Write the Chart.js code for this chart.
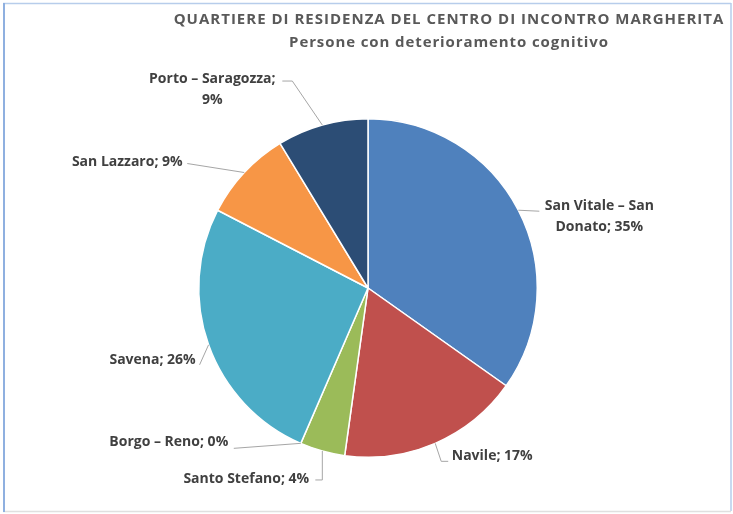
<!DOCTYPE html>
<html lang="it">
<head>
<meta charset="UTF-8">
<title>Quartiere di residenza</title>
<script src="https://cdn.jsdelivr.net/npm/chart.js"></script>
<style>
  body { margin: 0; background: #fff; }
  canvas { display: block; }
</style>
</head>
<body>
<canvas id="pie" width="733" height="514"></canvas>
<script>
  const categories = ['San Vitale – San Donato', 'Navile', 'Santo Stefano', 'Borgo – Reno', 'Savena', 'San Lazzaro', 'Porto – Saragozza'];
  const percentages = [34.8, 17.4, 4.3, 0, 26.1, 8.7, 8.7];
  const colors = ['#4F81BD', '#C0504D', '#9BBB59', '#8064A2', '#4BACC6', '#F79646', '#2C4D75'];

  const titleLines = ['QUARTIERE DI RESIDENZA DEL CENTRO DI INCONTRO MARGHERITA', 'Persone con deterioramento cognitivo'];

  // where each label sits, relative to the point on the rim at the slice middle
  const labelLayout = [
    { c: [81, 6], wrap: 125, line: [[21, 1]] },
    { c: [57, 13], wrap: 200, line: [[6, 18], [13, 18]] },
    { c: [-76, 28], wrap: 200, line: [[0, 29], [-7, 29]] },
    { c: [-132, -1], wrap: 200, line: [[-67, 5]] },
    { c: [-56, 15], wrap: 200, line: [[-9, 20]] },
    { c: [-117, -11], wrap: 200, line: [[-57, -9]] },
    { c: [-110, -36], wrap: 140, line: [[-30, -44], [-40, -44]] }
  ];

  const FONT = '"Open Sans", "Liberation Sans", sans-serif';

  function wrapText(ctx, text, maxW) {
    const words = text.split(' ');
    const lines = [];
    let cur = '';
    words.forEach(w => {
      const test = cur ? cur + ' ' + w : w;
      if (ctx.measureText(test).width > maxW && cur) {
        lines.push(cur);
        cur = w;
      } else {
        cur = test;
      }
    });
    lines.push(cur);
    return lines;
  }

  const framePlugin = {
    id: 'frame',
    beforeDraw(chart) {
      const c = chart.ctx;
      c.save();
      c.fillStyle = '#fff';
      c.fillRect(0, 0, chart.width, chart.height);
      c.lineWidth = 1.5;
      c.strokeStyle = '#B7CDEB';
      c.beginPath();
      c.moveTo(3, 3.5); c.lineTo(731, 3.5);
      c.moveTo(731, 3); c.lineTo(731, 511);
      c.stroke();
      c.strokeStyle = '#E0E0E0';
      c.beginPath();
      c.moveTo(3, 511.5); c.lineTo(731, 511.5);
      c.stroke();
      c.strokeStyle = '#8FB0E0';
      c.lineWidth = 2;
      c.beginPath();
      c.moveTo(4, 3); c.lineTo(4, 512);
      c.stroke();
      c.restore();
    }
  };

  const titlePlugin = {
    id: 'twoLineTitle',
    afterDraw(chart) {
      const c = chart.ctx;
      c.save();
      c.fillStyle = '#595959';
      c.font = 'bold 15px ' + FONT;
      c.letterSpacing = '1px';
      c.textAlign = 'center';
      c.textBaseline = 'middle';
      c.fillText(titleLines[0], 449, 20);
      c.letterSpacing = '0.9px';
      c.fillText(titleLines[1], 449, 43);
      c.restore();
    }
  };

  const labelPlugin = {
    id: 'pieLabels',
    afterDatasetsDraw(chart) {
      const c = chart.ctx;
      const arcs = chart.getDatasetMeta(0).data;
      c.save();
      c.font = 'bold 14px ' + FONT;
      arcs.forEach((arc, i) => {
        const p = arc.getProps(['x', 'y', 'startAngle', 'endAngle', 'outerRadius'], true);
        const mid = (p.startAngle + p.endAngle) / 2;
        const ex = p.x + p.outerRadius * Math.cos(mid);
        const ey = p.y + p.outerRadius * Math.sin(mid);
        const lay = labelLayout[i];

        c.strokeStyle = '#A6A6A6';
        c.lineWidth = 1;
        c.beginPath();
        c.moveTo(ex, ey);
        lay.line.forEach(pt => c.lineTo(ex + pt[0], ey + pt[1]));
        c.stroke();

        const text = categories[i] + '; ' + Math.round(percentages[i]) + '%';
        const lines = wrapText(c, text, lay.wrap);
        const cx = ex + lay.c[0];
        const cy = ey + lay.c[1];
        const lh = 21;
        c.fillStyle = '#404040';
        c.textAlign = 'center';
        c.textBaseline = 'middle';
        lines.forEach((ln, k) => {
          c.fillText(ln, cx, cy + (k - (lines.length - 1) / 2) * lh);
        });
      });
      c.restore();
    }
  };

  new Chart(document.getElementById('pie'), {
    type: 'pie',
    data: {
      labels: categories,
      datasets: [{
        data: percentages,
        backgroundColor: colors,
        borderColor: '#ffffff',
        borderWidth: 1.5
      }]
    },
    options: {
      responsive: false,
      animation: false,
      layout: { padding: { left: 198, right: 195, top: 118, bottom: 56 } },
      plugins: {
        legend: { display: false },
        tooltip: { enabled: false },
        title: { display: false }
      }
    },
    plugins: [framePlugin, labelPlugin, titlePlugin]
  });
</script>
</body>
</html>
